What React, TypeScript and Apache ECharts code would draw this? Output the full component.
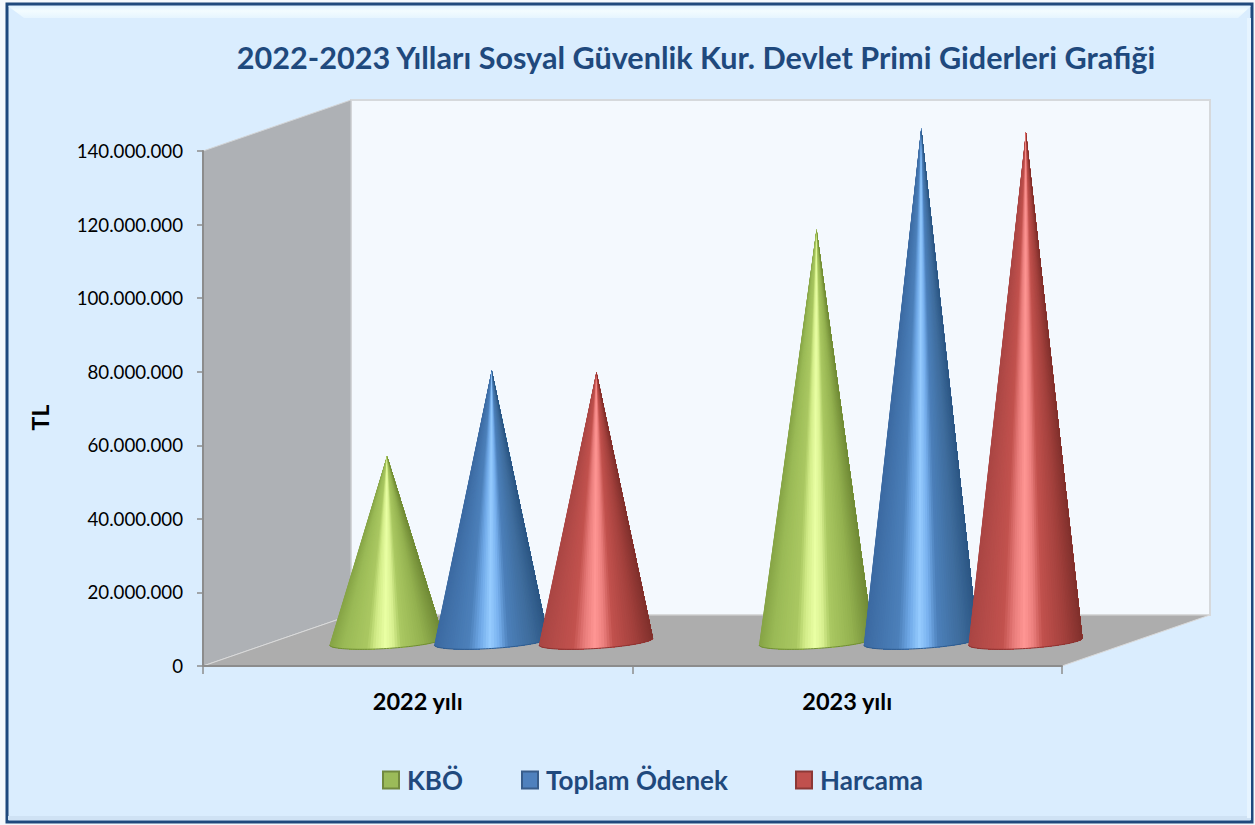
import React, { useEffect, useRef } from "react";
import * as echarts from "echarts";

const categories = ["2022 yılı", "2023 yılı"];
const kbo = [51400000, 113000000];
const toplamOdenek = [74700000, 140500000];
const harcama = [74200000, 139400000];
const seriesNames = ["KBÖ", "Toplam Ödenek", "Harcama"];
const titleText = "2022-2023 Yılları Sosyal Güvenlik Kur. Devlet Primi Giderleri Grafiği";

type Stop = [number, number[]];
const greenStops: Stop[] = [
  [0, [134, 164, 70]], [0.12, [154, 186, 86]], [0.33, [170, 200, 98]], [0.4, [210, 236, 136]], [0.49, [234, 255, 164]],
  [0.56, [216, 240, 144]], [0.63, [170, 200, 98]], [0.82, [148, 178, 80]], [1, [112, 138, 54]],
];
const blueStops: Stop[] = [
  [0, [60, 106, 162]], [0.3, [76, 128, 186]], [0.4, [112, 170, 232]], [0.49, [150, 204, 255]],
  [0.57, [120, 176, 238]], [0.65, [76, 128, 186]], [0.85, [62, 108, 156]], [1, [44, 86, 132]],
];
const redStops: Stop[] = [
  [0, [170, 70, 68]], [0.3, [194, 82, 78]], [0.4, [234, 126, 124]], [0.49, [255, 150, 148]],
  [0.57, [236, 128, 126]], [0.65, [194, 82, 78]], [0.85, [162, 64, 60]], [1, [128, 48, 44]],
];
const edgeColors = ["#6f8c34", "#2f5b8e", "#8c3230"];
const allStops = [greenStops, blueStops, redStops];

const shade = (stops: Stop[], f: number) => {
  for (let i = 1; i < stops.length; i++) {
    if (f <= stops[i][0]) {
      const [a, ca] = stops[i - 1];
      const [b, cb] = stops[i];
      const k = (f - a) / (b - a);
      const c = ca.map((v, j) => Math.round(v + (cb[j] - v) * k));
      return `rgb(${c[0]},${c[1]},${c[2]})`;
    }
  }
  const l = stops[stops.length - 1][1];
  return `rgb(${l[0]},${l[1]},${l[2]})`;
};

const DEPTH_X = 73.5;
const DEPTH_Y = 21;
const SPACING = 104.7;

const coneRenderer = (seriesIndex: number) => (params: any, api: any) => {
  const cat = api.value(0);
  const val = api.value(1);
  const zero = api.coord([cat, 0]);
  const top = api.coord([cat, val]);
  const cx = zero[0] + DEPTH_X + (seriesIndex - 1) * SPACING;
  const by = zero[1] - DEPTH_Y;
  const tip = [cx + 0.5, top[1] - DEPTH_Y];
  const pt = (t: number) => [
    cx + 57 * Math.cos(t),
    by - 3.5 - 3.5 * Math.cos(t) + 7 * Math.sin(t),
  ];
  const N = 64;
  const children: any[] = [];
  const stops = allStops[seriesIndex];
  const curve: number[][] = [];
  for (let i = 0; i <= N; i++) curve.push(pt(Math.PI - (i / N) * Math.PI));
  for (let i = 0; i < N; i++) {
    const mid = pt(Math.PI - ((i + 0.5) / N) * Math.PI);
    const f = (mid[0] - (cx - 57)) / 114;
    children.push({
      type: "polygon",
      silent: true,
      // each slice runs on to the far side of the base, so the next one covers it without a seam
      shape: { points: [tip, ...curve.slice(i)] },
      style: { fill: shade(stops, f) },
    });
  }
  children.push({
    type: "polyline",
    silent: true,
    shape: { points: curve },
    style: { fill: "none", stroke: edgeColors[seriesIndex], lineWidth: 1 },
  });
  return { type: "group", children };
};

const legendColors = ["#9BBB59", "#4F81BD", "#C0504D"];
const legendBorders = ["#71893F", "#385D8A", "#8C3836"];
const legendLefts = [382, 521, 795];
const seriesValues = [kbo, toplamOdenek, harcama];
const numFmt = (v: number) => String(v).replace(/\B(?=(\d{3})+(?!\d))/g, ".");

const FONT = "Lato, 'Open Sans', sans-serif";
const NAVY = "#1F497D";

export default function App() {
  const ref = useRef<HTMLDivElement>(null);
  useEffect(() => {
    document.body.style.margin = "0";
    const chart = echarts.init(ref.current!, undefined, { renderer: "svg" });
    chart.setOption({
      animation: false,
      backgroundColor: "#F5F9FD",
      textStyle: { fontFamily: FONT },
      title: {
        text: titleText,
        left: 691,
        top: 37,
        textAlign: "center",
        textStyle: { fontFamily: FONT, fontWeight: "bold", fontSize: 30.6, color: NAVY },
      },
      legend: seriesNames.map((name, i) => ({
        left: legendLefts[i],
        top: 767,
        padding: 0,
        itemWidth: 16,
        itemHeight: 17,
        icon: "rect",
        data: [name],
        selectedMode: false,
        textStyle: { fontFamily: FONT, fontWeight: "bold", fontSize: 26, color: NAVY, padding: [0, 0, 0, 3] },
      })),
      grid: { left: 203, top: 151, width: 859, height: 515, containLabel: false },
      xAxis: {
        type: "category",
        data: categories,
        boundaryGap: true,
        axisLine: { show: true, lineStyle: { color: "#8C8C8C", width: 2 } },
        axisTick: { show: true, length: 8, lineStyle: { color: "#8C8C8C", width: 1.5 } },
        axisLabel: { color: "#000", fontWeight: "bold", fontSize: 23.5, margin: 23, fontFamily: FONT },
        z: 3,
      },
      yAxis: {
        type: "value",
        min: 0,
        max: 140000000,
        interval: 20000000,
        name: "TL",
        nameLocation: "middle",
        nameGap: 152,
        nameTextStyle: { color: "#000", fontWeight: "bold", fontSize: 23, fontFamily: FONT, padding: [0, 18, 0, 0] },
        axisLine: { show: true, lineStyle: { color: "#8C8C8C", width: 2 } },
        axisTick: { show: true, length: 6, lineStyle: { color: "#8C8C8C", width: 1.5 } },
        axisLabel: { color: "#000", fontSize: 18.7, margin: 20, fontFamily: FONT, formatter: (v: number) => numFmt(v) },
        splitLine: { show: false },
        z: 3,
      },
      graphic: {
        elements: [
          { type: "rect", z: -10, silent: true, shape: { x: 7, y: 4, width: 1245, height: 818 },
            style: { fill: "#DAEDFE", stroke: NAVY, lineWidth: 3 } },
          { type: "polygon", z: -9, silent: true, shape: { points: [[8, 6], [1251, 6], [1238, 18], [24, 18]] },
            style: { fill: new echarts.graphic.LinearGradient(0, 0, 0, 1, [
              { offset: 0, color: "#DFF2FF" }, { offset: 0.4, color: "#F3FCFF" }, { offset: 1, color: "#E6F5FF" },
            ]) } },
          { type: "rect", z: -9, silent: true, shape: { x: 8, y: 816, width: 1243, height: 4 }, style: { fill: "#CFE2F4" } },
          { type: "rect", z: -9, silent: true, shape: { x: 1247, y: 18, width: 4, height: 800 }, style: { fill: "#E6F4FF" } },
          // back wall
          { type: "rect", z: -8, silent: true, shape: { x: 351, y: 100, width: 859, height: 515 },
            style: { fill: "#F4F9FE", stroke: "#D6D9DC", lineWidth: 2 } },
          // left wall
          { type: "polygon", z: -7, silent: true, shape: { points: [[203, 151], [351, 100], [351, 615], [203, 666]] },
            style: { fill: "#AEB1B5", stroke: "#D2D4D6", lineWidth: 1 } },
          // floor
          { type: "polygon", z: -6, silent: true, shape: { points: [[203, 666], [351, 615], [1210, 615], [1062, 666]] },
            style: { fill: "#ADADAD", stroke: "#DADADA", lineWidth: 1 } },
        ],
      },
      series: seriesNames.map((name, si) => ({
        type: "custom",
        name,
        clip: false,
        coordinateSystem: "cartesian2d",
        renderItem: coneRenderer(si),
        encode: { x: 0, y: 1 },
        itemStyle: { color: legendColors[si], borderColor: legendBorders[si], borderWidth: 2 },
        data: seriesValues[si].map((v, i) => [i, v]),
      })),
    });
    return () => chart.dispose();
  }, []);
  return <div ref={ref} style={{ width: 1255, height: 825 }} />;
}
